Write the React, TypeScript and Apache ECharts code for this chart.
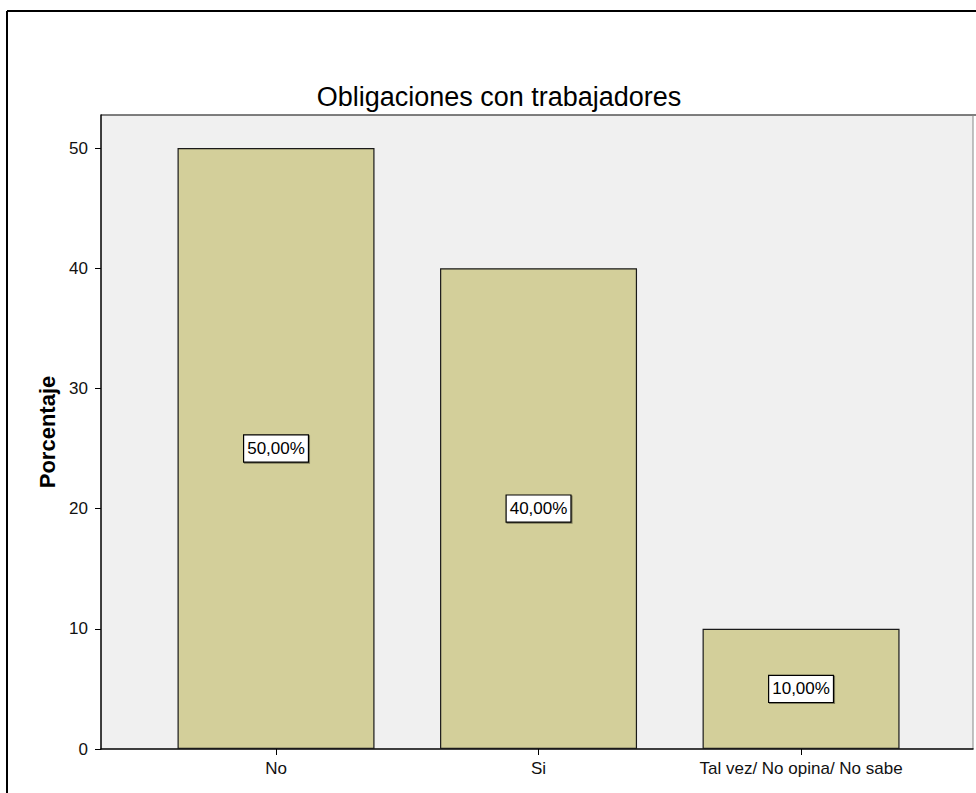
import React, { useEffect, useRef } from "react";
import * as echarts from "echarts";

const categories = ["No", "Si", "Tal vez/ No opina/ No sabe"];
const percentages = [50, 40, 10];
const yTicks = [0, 10, 20, 30, 40, 50];
const titleText = "Obligaciones con trabajadores";
const yName = "Porcentaje";

export default function App() {
  const ref = useRef<HTMLDivElement>(null);
  useEffect(() => {
    if (!ref.current) return;
    const chart = echarts.init(ref.current, null, { renderer: "svg" });
    const font = "'Liberation Sans', Arial, sans-serif";
    const catIdx = categories.map((_, i) => i);
    chart.setOption({
      animation: false,
      backgroundColor: "#ffffff",
      title: {
        text: titleText,
        left: 494,
        top: 78,
        textAlign: "center",
        textStyle: { fontFamily: font, fontSize: 27, fontWeight: "normal", color: "#000" },
      },
      grid: { left: 101, right: 3, top: 115, bottom: 44, show: true, backgroundColor: "#f0f0f0", borderWidth: 0 },
      xAxis: {
        type: "value",
        min: -0.6667,
        max: 2.655,
        splitLine: { show: false },
        axisLine: { show: true, onZero: false, lineStyle: { color: "#000", width: 1.5 } },
        axisTick: { show: true, customValues: catIdx, length: 6, lineStyle: { color: "#000" } },
        axisLabel: {
          customValues: catIdx,
          formatter: (v: number) => categories[Math.round(v)] ?? "",
          fontFamily: font,
          fontSize: 17,
          color: "#111",
          margin: 11,
        },
      },
      yAxis: {
        type: "value",
        min: 0,
        max: 52.75,
        interval: 10,
        name: yName,
        nameLocation: "middle",
        nameGap: 43,
        nameTextStyle: { fontFamily: font, fontSize: 22, fontWeight: "bold", color: "#000" },
        splitLine: { show: false },
        axisLine: { show: true, onZero: false, lineStyle: { color: "#000", width: 1.5 } },
        axisTick: { show: true, customValues: yTicks, length: 6, lineStyle: { color: "#000" } },
        axisLabel: {
          customValues: yTicks,
          fontFamily: font,
          fontSize: 17,
          color: "#111",
          margin: 13,
        },
      },
      series: [
        {
          type: "bar",
          data: percentages.map((v, i) => [i, v]),
          barWidth: 197,
          itemStyle: { color: "#d3cf9a", borderColor: "#1a1a1a", borderWidth: 1.2 },
          label: {
            show: true,
            position: "inside",
            formatter: (p: any) => p.value[1].toFixed(2).replace(".", ",") + "%",
            fontFamily: font,
            fontSize: 17,
            color: "#000",
            backgroundColor: "#ffffff",
            borderColor: "#000",
            borderWidth: 1.2,
            padding: [5, 3, 4, 3],
            shadowColor: "rgba(0,0,0,0.4)",
            shadowOffsetX: 1,
            shadowOffsetY: 1,
          },
        },
      ],
      graphic: [
        { type: "line", shape: { x1: 7, y1: 11, x2: 976, y2: 11 }, style: { stroke: "#000", lineWidth: 2 } },
        { type: "line", shape: { x1: 7, y1: 11, x2: 7, y2: 793 }, style: { stroke: "#000", lineWidth: 2 } },
        { type: "line", shape: { x1: 101, y1: 115, x2: 976, y2: 115 }, style: { stroke: "#555", lineWidth: 1.5 } },
        { type: "line", shape: { x1: 973, y1: 115, x2: 973, y2: 749 }, style: { stroke: "#888", lineWidth: 1 } },
      ],
    });
    return () => chart.dispose();
  }, []);
  return (
    <div
      ref={ref}
      style={{ position: "fixed", left: 0, top: 0, width: 976, height: 793 }}
    />
  );
}
